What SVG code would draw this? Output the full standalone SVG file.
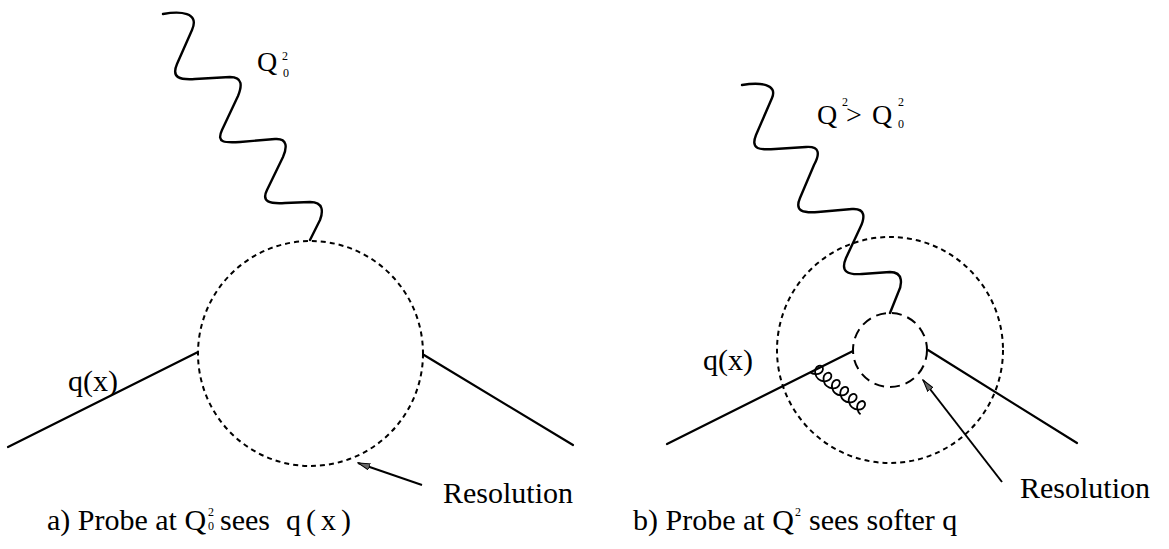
<svg xmlns="http://www.w3.org/2000/svg" width="1169" height="549" viewBox="0 0 1169 549">
<defs>
<style>
.line{fill:none;stroke:#000;stroke-width:2.2;stroke-linecap:round}
.photon{fill:none;stroke:#000;stroke-width:2.4;stroke-linecap:round;stroke-linejoin:round}
.res{fill:none;stroke:#000;stroke-width:2;stroke-dasharray:5 4}
.inner{fill:none;stroke:#000;stroke-width:2;stroke-dasharray:10 6}
.arrow{fill:none;stroke:#000;stroke-width:2;marker-end:url(#ah)}
.gluon{fill:none;stroke:#000;stroke-width:1.8}
text{font-family:"Liberation Serif","Times New Roman",serif;fill:#000}
.t{font-size:30px}
.q{font-size:28px}
.sm{font-size:12px}
</style>
<marker id="ah" markerWidth="13" markerHeight="8" refX="12" refY="4" orient="auto" markerUnits="userSpaceOnUse"><path d="M0,0.8 L12,4 L0,7.2 Z" fill="#666" stroke="#000" stroke-width="1"/></marker>
</defs>
<g id="diagram-a">
<circle class="res" cx="310.5" cy="353.5" r="112.5"/>
<text class="q" x="257" y="71">Q</text>
<text class="sm" x="282" y="60">2</text>
<text class="sm" x="283" y="77">0</text>
<text class="t" x="68" y="391">q(x)</text>
<text class="t" x="443" y="503">Resolution</text>
</g>
<g id="diagram-b">
<circle class="res" cx="890" cy="350" r="113"/>
<circle class="inner" cx="890" cy="350" r="37"/>
<text class="q" x="817" y="124">Q</text>
<text class="sm" x="842" y="106">2</text>
<text class="q" x="846" y="124">&gt;</text>
<text class="q" x="872" y="124">Q</text>
<text class="sm" x="898" y="106">2</text>
<text class="sm" x="898" y="128">0</text>
<text class="t" x="703" y="370">q(x)</text>
<text class="t" x="1020" y="498">Resolution</text>
</g>
<g id="captions">
<text class="t" y="530"><tspan x="47">a) Probe at Q</tspan><tspan class="sm" x="208" y="516">2</tspan><tspan class="sm" x="208" y="530">0</tspan><tspan x="220" y="530">sees</tspan><tspan x="286" letter-spacing="5">q(x)</tspan></text>
<text class="t" y="530"><tspan x="633">b) Probe at Q</tspan><tspan class="sm" x="795" y="516">2</tspan><tspan x="809" y="530">sees softer q</tspan></text>
</g>
<g id="connectors">
<path class="photon" d="M163,14 C180,11 200,12 192,30 L177,64 C171,78 180,80 195,79 L230,77 C243,77 242,86 238,96 L222,130 C216,143 225,143 240,142 L275,139 C288,138 287,148 283,157 L267,190 C261,202 270,204 285,203 L310,202 C324,202 323,212 320,220 L310,240"/>
<path class="photon" d="M742,85 C760,82 778,84 772,98 L756,135 C750,150 760,150 775,149 L806,147 C820,146 820,154 814,165 L800,198 C794,212 804,213 818,212 L852,209 C866,208 865,218 860,228 L846,258 C840,272 848,275 862,274 L890,272 C904,272 902,285 898,293 L890,313"/>
<line class="line" x1="8" y1="447" x2="198" y2="352"/>
<line class="line" x1="424" y1="355" x2="573" y2="445"/>
<line class="line" x1="667" y1="444" x2="853" y2="351"/>
<line class="line" x1="928" y1="350" x2="1077" y2="443"/>
<path class="gluon" transform="translate(810,372) rotate(40) scale(1,-1)" d="M0,0 c4.06,0 7.83,2.86 8.75,6 c0.92,3.14 -1.02,6 -3.25,6 c-2.23,0 -4.17,-2.86 -3.25,-6 c0.92,-3.14 4.69,-6 8.75,-6 c4.06,0 7.83,2.86 8.75,6 c0.92,3.14 -1.02,6 -3.25,6 c-2.23,0 -4.17,-2.86 -3.25,-6 c0.92,-3.14 4.69,-6 8.75,-6 c4.06,0 7.83,2.86 8.75,6 c0.92,3.14 -1.02,6 -3.25,6 c-2.23,0 -4.17,-2.86 -3.25,-6 c0.92,-3.14 4.69,-6 8.75,-6 c4.06,0 7.83,2.86 8.75,6 c0.92,3.14 -1.02,6 -3.25,6 c-2.23,0 -4.17,-2.86 -3.25,-6 c0.92,-3.14 4.69,-6 8.75,-6 c4.06,0 7.83,2.86 8.75,6 c0.92,3.14 -1.02,6 -3.25,6 c-2.23,0 -4.17,-2.86 -3.25,-6 c0.92,-3.14 4.69,-6 8.75,-6 c4.06,0 7.83,2.86 8.75,6 c0.92,3.14 -1.02,6 -3.25,6 c-2.23,0 -4.17,-2.86 -3.25,-6 c0.92,-3.14 4.69,-6 8.75,-6"/>
<line class="arrow" x1="422" y1="485" x2="358" y2="463"/>
<line class="arrow" x1="1002" y1="482" x2="923" y2="380"/>
</g>
</svg>
